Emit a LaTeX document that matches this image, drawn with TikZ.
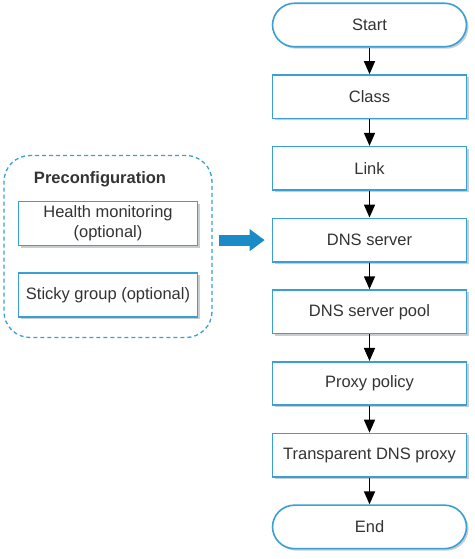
\documentclass[tikz,border=0pt]{standalone}
\usepackage{fontspec}
\setmainfont{Liberation Sans}
\usetikzlibrary{positioning, arrows.meta, shadows}
\definecolor{FlowBlue}{HTML}{3A9FD2}
\definecolor{ArrowBlue}{HTML}{1A8BC6}
\definecolor{FlowText}{HTML}{333333}
\definecolor{FlowShadow}{HTML}{C8CDD2}

\begin{document}
\begin{tikzpicture}[
        x=1pt, y=1pt,
        node distance=26.6pt,
        font=\fontsize{16.5}{20}\selectfont,
        text=FlowText,
        stepbox/.style={
            rectangle, draw=FlowBlue, line width=1.6pt, fill=white,
            minimum width=194pt, minimum height=43.5pt, align=center,
            drop shadow={shadow xshift=2pt, shadow yshift=-2pt, fill=FlowShadow, opacity=1}
        },
        terminal/.style={stepbox, rounded corners=22pt},
        optbox/.style={stepbox, minimum width=179pt, minimum height=44pt},
        group/.style={rectangle, rounded corners=26pt, draw=FlowBlue, line width=1.3pt,
            dash pattern=on 4pt off 3pt, minimum width=208pt, minimum height=182pt},
        arrow/.style={line width=1.6pt, black, -{Triangle[length=13pt, width=11pt]}},
        feed/.style={line width=11pt, ArrowBlue, -{Triangle[length=15pt, width=21pt]},
            shorten <=6pt, shorten >=7pt}
    ]
    \useasboundingbox (0,0) rectangle (474,-559);

    % Preconfiguration group
    \node (pre) [group] at (108,-246.5) {};
    \node (title) [font=\fontsize{16.5}{20}\selectfont\bfseries] at (100,-179) {Preconfiguration};
    \node (health) [optbox] at (108,-223.5) {Health monitoring\\(optional)};
    \node (sticky) [optbox] at (108,-295) {Sticky group (optional)};

    % Main flow
    \node (start) [terminal] at (369.5,-25) {Start};
    \node (class) [stepbox, below=of start] {Class};
    \node (link) [stepbox, below=of class] {Link};
    \node (dns) [stepbox, below=of link] {DNS server};
    \node (pool) [stepbox, below=of dns] {DNS server pool};
    \node (proxy) [stepbox, below=of pool] {Proxy policy};
    \node (transp) [stepbox, below=of proxy] {Transparent DNS proxy};
    \node (end) [terminal, below=of transp] {End};

    % Arrows between steps
    \draw [arrow] (start.south) -- (class.north);
    \draw [arrow] (class.south) -- (link.north);
    \draw [arrow] (link.south) -- (dns.north);
    \draw [arrow] (dns.south) -- (pool.north);
    \draw [arrow] (pool.south) -- (proxy.north);
    \draw [arrow] (proxy.south) -- (transp.north);
    \draw [arrow] (transp.south) -- (end.north);

    % Preconfiguration feeds the DNS server
    \draw [feed] (pre.east |- dns.west) -- (dns.west);

\end{tikzpicture}
\end{document}
